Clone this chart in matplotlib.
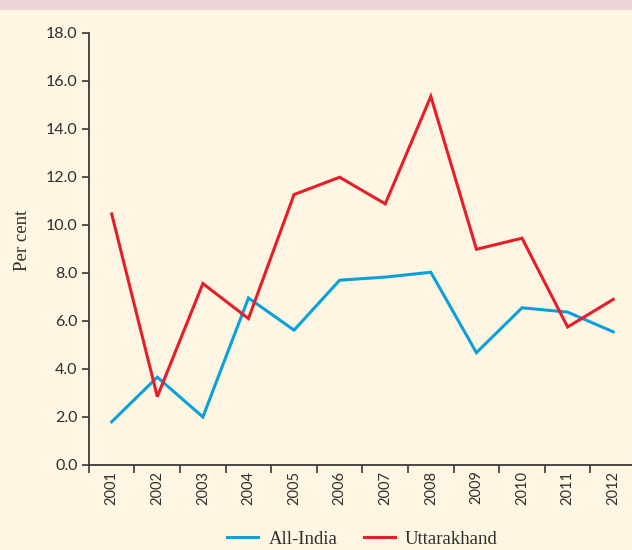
import matplotlib
matplotlib.use("Agg")
import matplotlib.pyplot as plt
from matplotlib.lines import Line2D
from matplotlib.patches import Rectangle

years = ["2001", "2002", "2003", "2004", "2005", "2006", "2007", "2008", "2009", "2010", "2011", "2012"]
all_india = [1.8, 3.66, 2.0, 6.96, 5.62, 7.7, 7.83, 8.03, 4.68, 6.55, 6.37, 5.55]
uttarakhand = [10.46, 2.85, 7.56, 6.1, 11.27, 11.99, 10.88, 15.36, 8.99, 9.45, 5.75, 6.9]
yticks = [0, 2, 4, 6, 8, 10, 12, 14, 16, 18]

plt.rcParams['font.family'] = ['Liberation Serif', 'DejaVu Serif']
tick_font = ['Lato', 'DejaVu Sans']
bg = "#FEF5E2"
txt = "#2e2e2e"
blue = "#0AA0DC"
red = "#E61E2A"

W, H = 632, 550
fig = plt.figure(figsize=(W / 100, H / 100), dpi=100, facecolor=bg)
fig.patches.append(Rectangle((0, 1 - 10 / H), 1, 10 / H, transform=fig.transFigure,
                             facecolor="#EED5D9", edgecolor="none", zorder=0))

left, right = 88.9, 636
bottom, top = 465, 33
ax = fig.add_axes([left / W, 1 - bottom / H, (right - left) / W, (bottom - top) / H])
ax.set_facecolor(bg)

x = list(range(len(years)))
ax.plot(x, all_india, color=blue, lw=2.2, solid_joinstyle="miter", label="All-India")
ax.plot(x, uttarakhand, color=red, lw=2.2, solid_joinstyle="miter", label="Uttarakhand")

ax.set_xlim(-0.5, len(years) - 0.5)
ax.set_ylim(0, 18)
ax.set_yticks(yticks)
ax.set_yticklabels([f"{v:.1f}" for v in yticks], family=tick_font, fontsize=11.5, color=txt)
ax.set_xticks(x)
ax.set_xticklabels(years, rotation=90, family=tick_font, fontsize=10.5, color=txt)
ax.set_xticks([i - 0.5 for i in range(len(years) + 1)], minor=True)
ax.tick_params(axis="x", which="major", length=0, pad=4)
ax.tick_params(axis="x", which="minor", length=6, width=1.2, color="#3a3a3a")
ax.tick_params(axis="y", length=5, width=1.2, color="#3a3a3a", pad=3)

for s in ["top", "right"]:
    ax.spines[s].set_visible(False)
for s in ["left", "bottom"]:
    ax.spines[s].set_color("#3a3a3a")
    ax.spines[s].set_linewidth(1.3)

fig.text(22.5 / W, 1 - 240 / H, "Per cent", rotation=90, ha="center", va="center",
         fontsize=13.5, color=txt)

handles = [Line2D([], [], color=blue, lw=2.2), Line2D([], [], color=red, lw=2.2)]
fig.legend(handles, ["All-India", "Uttarakhand"], loc="center",
           bbox_to_anchor=(362.5 / W, 1 - 539 / H), ncol=2, frameon=False,
           fontsize=13.5, handlelength=1.65, handletextpad=0.55, columnspacing=1.4,
           labelcolor=txt, borderpad=0)

fig.savefig("out.png", dpi=100, facecolor=bg)
